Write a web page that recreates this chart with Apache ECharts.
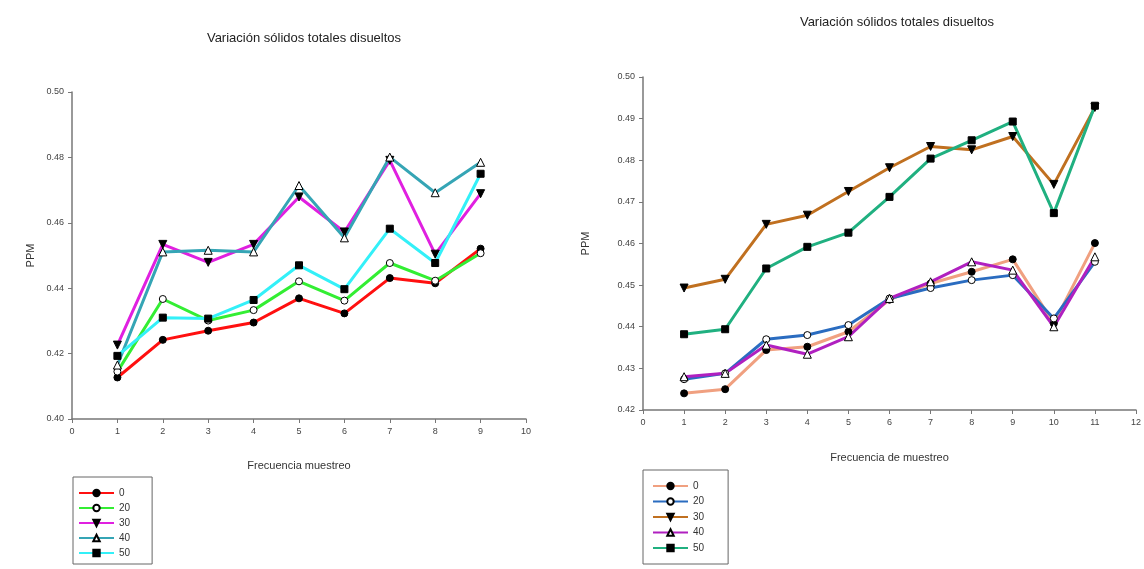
<!DOCTYPE html>
<html>
<head>
<meta charset="utf-8">
<script src="https://cdn.jsdelivr.net/npm/echarts@6/dist/echarts.min.js"></script>
<style>html,body{margin:0;padding:0;background:#fff;}#c{width:1144px;height:569px;}</style>
</head>
<body>
<div id="c"></div>
<script>
// ---- Data ----
const seriesNames = ['0', '20', '30', '40', '50'];
const leftX = [1, 2, 3, 4, 5, 6, 7, 8, 9];
const left0  = [0.4127, 0.4242, 0.4270, 0.4295, 0.4369, 0.4323, 0.4431, 0.4415, 0.4521];
const left20 = [0.4145, 0.4367, 0.4301, 0.4333, 0.4421, 0.4362, 0.4477, 0.4423, 0.4507];
const left30 = [0.4226, 0.4534, 0.4479, 0.4534, 0.4679, 0.4572, 0.4791, 0.4504, 0.4689];
const left40 = [0.4165, 0.4511, 0.4516, 0.4511, 0.4714, 0.4554, 0.4801, 0.4692, 0.4785];
const left50 = [0.4193, 0.4310, 0.4307, 0.4364, 0.4470, 0.4397, 0.4582, 0.4477, 0.4750];

const rightX = [1, 2, 3, 4, 5, 6, 7, 8, 9, 10, 11];
const right0  = [0.4240, 0.4250, 0.4344, 0.4352, 0.4388, 0.4465, 0.4504, 0.4532, 0.4562, 0.4408, 0.4601];
const right20 = [0.4274, 0.4288, 0.4370, 0.4380, 0.4404, 0.4468, 0.4493, 0.4512, 0.4524, 0.4420, 0.4556];
const right30 = [0.4493, 0.4514, 0.4646, 0.4668, 0.4725, 0.4782, 0.4833, 0.4825, 0.4857, 0.4742, 0.4927];
const right40 = [0.4280, 0.4288, 0.4356, 0.4334, 0.4376, 0.4468, 0.4508, 0.4556, 0.4536, 0.4400, 0.4568];
const right50 = [0.4382, 0.4394, 0.4540, 0.4592, 0.4626, 0.4712, 0.4804, 0.4848, 0.4893, 0.4673, 0.4931];

const titleText = 'Variación sólidos totales disueltos';
const yName = 'PPM';
const leftXName = 'Frecuencia muestreo';
const rightXName = 'Frecuencia de muestreo';

// ---- Styles ----
const FONT = '"Liberation Sans", Arial, sans-serif';
const leftColors = ['#ff1010', '#33ee33', '#e020e0', '#35a5b5', '#33f0f8'];
const rightColors = ['#f0a080', '#2a6cc0', '#c07020', '#b020c0', '#20b080'];
const markers = [
  {symbol: 'circle', fill: '#000', size: 7, rotate: 0},
  {symbol: 'circle', fill: '#fff', size: 7, rotate: 0},
  {symbol: 'triangle', fill: '#000', size: 8, rotate: 180},
  {symbol: 'triangle', fill: '#fff', size: 8, rotate: 0},
  {symbol: 'rect', fill: '#000', size: 7, rotate: 0}
];
const leftIds = seriesNames.map(n => 'L' + n);
const rightIds = seriesNames.map(n => 'R' + n);

function mkSeries(xs, arrs, colors, axisIdx, ids) {
  return arrs.map((arr, i) => ({
    name: ids[i],
    type: 'line',
    xAxisIndex: axisIdx, yAxisIndex: axisIdx,
    data: xs.map((x, k) => [x, arr[k]]),
    symbol: markers[i].symbol,
    symbolSize: markers[i].size,
    symbolRotate: markers[i].rotate,
    lineStyle: {color: colors[i], width: 3},
    itemStyle: {color: markers[i].fill, borderColor: '#000', borderWidth: 1},
    emphasis: {disabled: true},
    animation: false
  }));
}

const axisCommon = {
  axisLine: {show: true, onZero: false, lineStyle: {color: '#777', width: 1.5}},
  axisTick: {show: true, inside: false, length: 4, lineStyle: {color: '#777'}},
  splitLine: {show: false},
  axisLabel: {color: '#444', fontSize: 9, fontFamily: FONT},
  nameTextStyle: {color: '#333', fontSize: 11, fontFamily: FONT}
};

const option = {
  backgroundColor: '#fff',
  animation: false,
  title: [
    {text: titleText, left: 299, top: 27, textAlign: 'center',
     textStyle: {fontSize: 13, fontWeight: 'normal', color: '#222', fontFamily: FONT}},
    {text: titleText, left: 892, top: 11, textAlign: 'center',
     textStyle: {fontSize: 13, fontWeight: 'normal', color: '#222', fontFamily: FONT}}
  ],
  grid: [
    {left: 72, top: 92, width: 454, height: 327},
    {left: 643, top: 77, width: 494, height: 333}
  ],
  xAxis: [
    Object.assign({}, axisCommon, {type: 'value', gridIndex: 0, min: 0, max: 10, interval: 1,
      name: leftXName, nameLocation: 'middle', nameGap: 41}),
    Object.assign({}, axisCommon, {type: 'value', gridIndex: 1, min: 0, max: 12, interval: 1,
      name: rightXName, nameLocation: 'middle', nameGap: 42})
  ],
  yAxis: [
    Object.assign({}, axisCommon, {type: 'value', gridIndex: 0, min: 0.40, max: 0.50, interval: 0.02,
      axisLabel: Object.assign({}, axisCommon.axisLabel, {formatter: v => v.toFixed(2)}),
      name: yName, nameLocation: 'middle', nameGap: 36}),
    Object.assign({}, axisCommon, {type: 'value', gridIndex: 1, min: 0.42, max: 0.50, interval: 0.01,
      axisLabel: Object.assign({}, axisCommon.axisLabel, {formatter: v => v.toFixed(2)}),
      name: yName, nameLocation: 'middle', nameGap: 52})
  ],
  legend: [
    {orient: 'vertical', left: 73, top: 477, height: 92, data: leftIds,
     formatter: n => n.slice(1),
     itemWidth: 35, itemHeight: 8, itemGap: 5, padding: [11, 22, 6, 5],
     borderColor: '#666', borderWidth: 1, selectedMode: false,
     textStyle: {fontSize: 10, color: '#333', fontFamily: FONT}},
    {orient: 'vertical', left: 643, top: 470, height: 95, data: rightIds,
     formatter: n => n.slice(1),
     itemWidth: 35, itemHeight: 8, itemGap: 5.5, padding: [11, 24, 11, 9],
     borderColor: '#666', borderWidth: 1, selectedMode: false,
     textStyle: {fontSize: 10, color: '#333', fontFamily: FONT}}
  ],
  series: [].concat(
    mkSeries(leftX, [left0, left20, left30, left40, left50], leftColors, 0, leftIds),
    mkSeries(rightX, [right0, right20, right30, right40, right50], rightColors, 1, rightIds)
  )
};

const chart = echarts.init(document.getElementById('c'), null, {renderer: 'canvas'});
chart.setOption(option);
</script>
</body>
</html>
